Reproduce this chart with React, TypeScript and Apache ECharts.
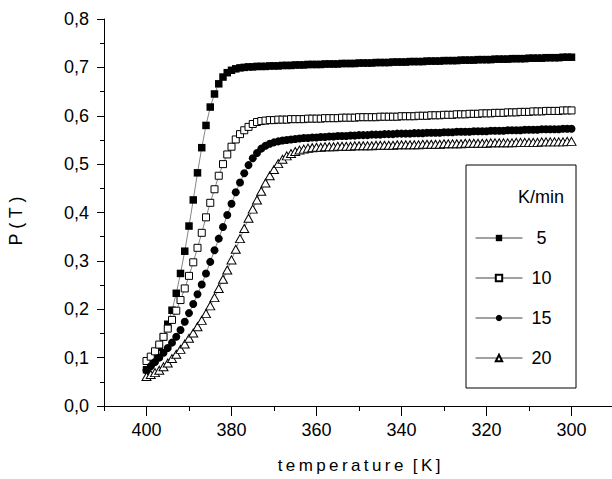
import React, { useEffect, useRef } from 'react';
import * as echarts from 'echarts';

const temperatures = [
  400, 399, 398, 397, 396, 395, 394, 393, 392, 391,
  390, 389, 388, 387, 386, 385, 384, 383, 382, 381,
  380, 379, 378, 377, 376, 375, 374, 373, 372, 371,
  370, 369, 368, 367, 366, 365, 364, 363, 362, 361,
  360, 359, 358, 357, 356, 355, 354, 353, 352, 351,
  350, 349, 348, 347, 346, 345, 344, 343, 342, 341,
  340, 339, 338, 337, 336, 335, 334, 333, 332, 331,
  330, 329, 328, 327, 326, 325, 324, 323, 322, 321,
  320, 319, 318, 317, 316, 315, 314, 313, 312, 311,
  310, 309, 308, 307, 306, 305, 304, 303, 302, 301,
  300,
];

const rate5 = [
  0.075, 0.088, 0.103, 0.121, 0.143, 0.169, 0.198, 0.233, 0.274, 0.320,
  0.372, 0.426, 0.482, 0.534, 0.580, 0.618, 0.645, 0.666, 0.680, 0.689,
  0.694, 0.697, 0.699, 0.700, 0.701, 0.701, 0.702, 0.702, 0.702, 0.703,
  0.703, 0.703, 0.704, 0.704, 0.704, 0.705, 0.705, 0.705, 0.706, 0.706,
  0.706, 0.706, 0.707, 0.707, 0.707, 0.707, 0.708, 0.708, 0.708, 0.708,
  0.709, 0.709, 0.709, 0.709, 0.710, 0.710, 0.710, 0.710, 0.711, 0.711,
  0.711, 0.711, 0.712, 0.712, 0.712, 0.712, 0.713, 0.713, 0.713, 0.713,
  0.714, 0.714, 0.714, 0.714, 0.715, 0.715, 0.715, 0.715, 0.716, 0.716,
  0.716, 0.716, 0.717, 0.717, 0.717, 0.717, 0.718, 0.718, 0.718, 0.718,
  0.719, 0.719, 0.719, 0.719, 0.720, 0.720, 0.720, 0.720, 0.721, 0.721,
  0.721,
];

const rate10 = [
  0.093, 0.102, 0.113, 0.127, 0.143, 0.160, 0.178, 0.197, 0.219, 0.243,
  0.269, 0.297, 0.327, 0.358, 0.390, 0.420, 0.448, 0.476, 0.500, 0.520,
  0.536, 0.551, 0.562, 0.570, 0.577, 0.583, 0.587, 0.589, 0.590, 0.591,
  0.591, 0.592, 0.592, 0.592, 0.593, 0.593, 0.593, 0.593, 0.594, 0.594,
  0.594, 0.594, 0.595, 0.595, 0.595, 0.595, 0.596, 0.596, 0.596, 0.596,
  0.597, 0.597, 0.597, 0.597, 0.597, 0.598, 0.598, 0.598, 0.598, 0.598,
  0.599, 0.599, 0.599, 0.599, 0.600, 0.600, 0.600, 0.601, 0.601, 0.601,
  0.602, 0.602, 0.602, 0.603, 0.603, 0.603, 0.604, 0.604, 0.604, 0.605,
  0.605, 0.605, 0.606, 0.606, 0.606, 0.607, 0.607, 0.607, 0.608, 0.608,
  0.608, 0.609, 0.609, 0.609, 0.610, 0.610, 0.610, 0.610, 0.611, 0.611,
  0.611,
];

const rate15 = [
  0.074, 0.082, 0.091, 0.100, 0.110, 0.120, 0.131, 0.143, 0.157, 0.174,
  0.192, 0.211, 0.231, 0.251, 0.274, 0.298, 0.322, 0.346, 0.370, 0.395,
  0.418, 0.442, 0.462, 0.481, 0.498, 0.512, 0.523, 0.532, 0.538, 0.542,
  0.545, 0.547, 0.549, 0.550, 0.551, 0.552, 0.553, 0.554, 0.554, 0.555,
  0.555, 0.556, 0.556, 0.557, 0.557, 0.558, 0.558, 0.558, 0.559, 0.559,
  0.560, 0.560, 0.560, 0.561, 0.561, 0.561, 0.562, 0.562, 0.562, 0.563,
  0.563, 0.563, 0.563, 0.564, 0.564, 0.564, 0.565, 0.565, 0.565, 0.565,
  0.566, 0.566, 0.566, 0.567, 0.567, 0.567, 0.567, 0.568, 0.568, 0.568,
  0.568, 0.569, 0.569, 0.569, 0.569, 0.570, 0.570, 0.570, 0.570, 0.571,
  0.571, 0.571, 0.571, 0.572, 0.572, 0.572, 0.572, 0.572, 0.573, 0.573,
  0.573,
];

const rate20 = [
  0.061, 0.065, 0.069, 0.074, 0.081, 0.089, 0.098, 0.107, 0.117, 0.128,
  0.140, 0.151, 0.164, 0.177, 0.191, 0.207, 0.224, 0.243, 0.262, 0.281,
  0.302, 0.324, 0.346, 0.367, 0.388, 0.407, 0.426, 0.444, 0.461, 0.476,
  0.489, 0.501, 0.510, 0.517, 0.522, 0.526, 0.529, 0.531, 0.533, 0.534,
  0.535, 0.535, 0.536, 0.536, 0.536, 0.537, 0.537, 0.537, 0.537, 0.538,
  0.538, 0.538, 0.538, 0.538, 0.539, 0.539, 0.539, 0.539, 0.539, 0.540,
  0.540, 0.540, 0.540, 0.540, 0.540, 0.541, 0.541, 0.541, 0.541, 0.541,
  0.542, 0.542, 0.542, 0.542, 0.542, 0.543, 0.543, 0.543, 0.543, 0.543,
  0.543, 0.544, 0.544, 0.544, 0.544, 0.544, 0.544, 0.545, 0.545, 0.545,
  0.545, 0.545, 0.545, 0.546, 0.546, 0.546, 0.546, 0.546, 0.546, 0.547,
  0.547,
];

const seriesNames = ['5', '10', '15', '20'];
const legendTitle = 'K/min';
const xAxisTitle = 'temperature [K]';
const yAxisTitle = 'P(T)';

const FONT = '"Liberation Sans", Arial, Helvetica, sans-serif';

const spaced = (s: string, sep: string) => s.split('').join(sep);

export default function App() {
  const ref = useRef<HTMLDivElement>(null);

  useEffect(() => {
    if (!ref.current) return;
    const chart = echarts.init(ref.current, null, { renderer: 'svg' });
    const pairs = (vals: number[]) => temperatures.map((t, i) => [t, vals[i]]);

    const lineStyle = { color: '#666', width: 0.8 };
    const seriesDefs = [
      { name: seriesNames[0], data: rate5, symbol: 'rect', symbolSize: 7.5, itemStyle: { color: '#000', borderWidth: 0 } },
      { name: seriesNames[1], data: rate10, symbol: 'rect', symbolSize: 7, itemStyle: { color: '#fff', borderColor: '#000', borderWidth: 1 } },
      { name: seriesNames[2], data: rate15, symbol: 'circle', symbolSize: 8, itemStyle: { color: '#000', borderWidth: 0 } },
      { name: seriesNames[3], data: rate20, symbol: 'triangle', symbolSize: [9, 8], itemStyle: { color: '#fff', borderColor: '#000', borderWidth: 1 } },
    ];

    const [titleWord, titleUnit] = xAxisTitle.split(' ');

    const option: any = {
      animation: false,
      backgroundColor: '#fff',
      textStyle: { fontFamily: FONT, color: '#000' },
      grid: [
        { left: 104, top: 19, width: 510, height: 387, outerBoundsMode: 'none', containLabel: false },
        { left: 146.5, top: 19, width: 510, height: 387, outerBoundsMode: 'none', containLabel: false },
      ],
      xAxis: [
        {
          type: 'value', gridIndex: 0, min: 290, max: 410, interval: 10, inverse: true,
          axisLine: { show: true, onZero: false, lineStyle: { color: '#000', width: 1 } },
          axisTick: { show: true, inside: false, length: 5, lineStyle: { color: '#000', width: 1 } },
          axisLabel: { show: false },
          splitLine: { show: false },
          name: spaced(titleWord, '\u2009') + '  ' + spaced(titleUnit, '\u2009'),
          nameLocation: 'middle', nameGap: 51,
          nameTextStyle: { fontSize: 17, color: '#000', fontFamily: FONT },
        },
        {
          type: 'value', gridIndex: 1, min: 280, max: 400, interval: 20, inverse: true,
          axisLine: { show: false },
          axisTick: { show: true, inside: false, length: 10, lineStyle: { color: '#000', width: 1 } },
          axisLabel: {
            show: true, margin: 15, fontSize: 18, color: '#000', fontFamily: FONT,
            formatter: (v: number) => (v >= 300 && v <= 400 ? String(v) : ''),
          },
          splitLine: { show: false },
        },
      ],
      yAxis: [
        {
          type: 'value', gridIndex: 0, min: 0, max: 0.8, interval: 0.1,
          axisLine: { show: true, onZero: false, lineStyle: { color: '#000', width: 1 } },
          axisTick: { show: true, inside: false, length: 7, lineStyle: { color: '#000', width: 1 } },
          minorTick: { show: true, splitNumber: 2, length: 4, lineStyle: { color: '#000', width: 1 } },
          axisLabel: {
            margin: 15, fontSize: 18, color: '#000', fontFamily: FONT,
            formatter: (v: number) => v.toFixed(1).replace('.', ','),
          },
          splitLine: { show: false },
        },
        {
          type: 'value', gridIndex: 1, min: 0, max: 0.8, show: false,
        },
      ],
      legend: {
        orient: 'vertical', left: 475, top: 229, padding: 0,
        itemWidth: 47, itemHeight: 8, itemGap: 22,
        selectedMode: false,
        data: seriesNames,
        lineStyle: { width: 1, color: '#444' },
        formatter: (n: string) => (n.length === 1 ? ' ' + n : n),
        textStyle: { fontSize: 18, color: '#000', fontFamily: FONT, padding: [0, 0, 0, 4] },
      },
      graphic: [
        {
          type: 'rect', z: -1,
          shape: { x: 466, y: 165, width: 110, height: 223 },
          style: { fill: '#fff', stroke: '#000', lineWidth: 1 },
        },
        {
          type: 'text', x: 541, y: 197,
          style: { text: legendTitle, fontSize: 18, fontFamily: FONT, fill: '#000', align: 'center', verticalAlign: 'middle' },
        },
        {
          type: 'text', x: 16, y: 221, rotation: Math.PI / 2,
          style: { text: spaced(yAxisTitle, ' '), fontSize: 18, fontFamily: FONT, fill: '#000', align: 'center', verticalAlign: 'middle' },
        },
      ],
      series: seriesDefs.map((s) => ({
        type: 'line',
        name: s.name,
        xAxisIndex: 0,
        yAxisIndex: 0,
        data: pairs(s.data),
        symbol: s.symbol,
        symbolSize: s.symbolSize,
        showAllSymbol: true,
        itemStyle: s.itemStyle,
        lineStyle,
        emphasis: { disabled: true },
        clip: true,
      })),
    };

    chart.setOption(option);
    return () => chart.dispose();
  }, []);

  return (
    <div
      ref={ref}
      style={{ position: 'fixed', left: 0, top: 0, width: 612, height: 479, background: '#fff' }}
    />
  );
}
